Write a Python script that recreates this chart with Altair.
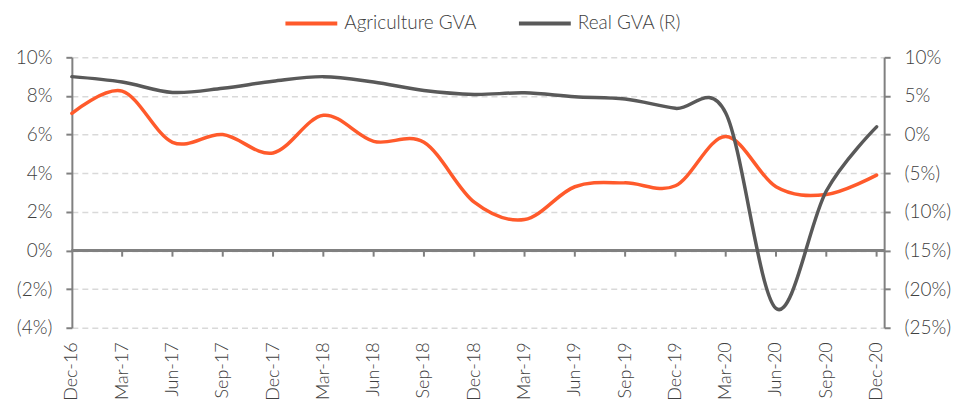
import altair as alt
import pandas as pd

quarters = ["Dec-16", "Mar-17", "Jun-17", "Sep-17", "Dec-17", "Mar-18", "Jun-18", "Sep-18",
            "Dec-18", "Mar-19", "Jun-19", "Sep-19", "Dec-19", "Mar-20", "Jun-20", "Sep-20", "Dec-20"]
agri = [7.1, 8.25, 5.6, 6.0, 5.05, 7.0, 5.65, 5.6, 2.5, 1.6, 3.3, 3.5, 3.35, 5.9, 3.3, 2.9, 3.9]
gva = [7.5, 6.8, 5.45, 6.0, 6.9, 7.5, 6.8, 5.7, 5.2, 5.4, 4.9, 4.6, 3.4, 2.8, -22.5, -7.3, 1.0]
series_names = ["Agriculture GVA", "Real GVA (R)"]
left_ticks = [-4, -2, 0, 2, 4, 6, 8, 10]
right_ticks = [-25, -20, -15, -10, -5, 0, 5, 10]

ORANGE = "#FF5A2B"
GREY = "#595959"
AXIS = "#808080"
FONT = "Lato"
FW = 300
TXT = "#404040"

idx = list(range(len(quarters)))
df = pd.DataFrame({
    "idx": idx * 2,
    "quarter": quarters * 2,
    "value": agri + gva,
    "series": [series_names[0]] * len(idx) + [series_names[1]] * len(idx),
})
ticks_df = pd.DataFrame({"idx": idx[1:]})

x_max = 16.15
xs = alt.Scale(domain=[0, x_max], nice=False, zero=False)
left_scale = alt.Scale(domain=[-4, 10], nice=False, zero=False)
right_scale = alt.Scale(domain=[-25, 10], nice=False, zero=False)

label_arr = "[" + ",".join("'" + q + "'" for q in quarters) + "]"
pct_expr = "datum.value < 0 ? '(' + format(-datum.value, 'd') + '%)' : format(datum.value, 'd') + '%'"

x_axis = alt.Axis(values=idx, labelExpr=label_arr + "[datum.value]", labelAngle=270,
                  domain=False, ticks=False, grid=False, title=None,
                  labelFont=FONT, labelFontWeight=FW, labelFontSize=18, labelColor=TXT,
                  labelPadding=14, labelOverlap=False, labelFlush=False, labelBound=False)

y_left_axis = alt.Axis(values=left_ticks, labelExpr=pct_expr, title=None,
                       grid=True, gridDash=[6, 4], gridColor="#d9d9d9", gridWidth=1.5,
                       domainColor=AXIS, domainWidth=2, tickColor=AXIS, tickWidth=2,
                       tickSize=6, labelPadding=14, labelFont=FONT, labelFontWeight=FW,
                       labelFontSize=19, labelColor=TXT, labelOverlap=False,
                       labelFlush=False, labelBound=False)

color = alt.Color("series:N", scale=alt.Scale(domain=series_names, range=[ORANGE, GREY]),
                  legend=alt.Legend(title=None, orient="none", direction="horizontal",
                                    legendX=212, legendY=-62, symbolType="stroke",
                                    symbolSize=2700, symbolStrokeWidth=4,
                                    labelFont=FONT, labelFontWeight=FW, labelFontSize=19,
                                    labelColor=TXT, columnPadding=34, labelOffset=5,
                                    labelLimit=400))

agri_line = alt.Chart(df).transform_filter(alt.datum.series == series_names[0]).mark_line(
    interpolate="cardinal", tension=0, strokeWidth=3.5, strokeCap="round"
).encode(
    x=alt.X("idx:Q", scale=xs, axis=x_axis),
    y=alt.Y("value:Q", scale=left_scale, axis=y_left_axis),
    color=color,
)

zero_rule = alt.Chart(ticks_df).mark_rule(color=AXIS, strokeWidth=2).encode(
    x=alt.value(0), x2=alt.value(814),
    y=alt.datum(0, scale=left_scale, axis=y_left_axis),
)

x_ticks = alt.Chart(ticks_df).mark_rule(color=AXIS, strokeWidth=2).encode(
    x=alt.X("idx:Q", scale=xs, axis=x_axis),
    y=alt.datum(0, scale=left_scale, axis=y_left_axis),
    y2=alt.datum(-0.32),
)

left = alt.layer(agri_line, zero_rule, x_ticks)

gva_line = alt.Chart(df).transform_filter(alt.datum.series == series_names[1]).mark_line(
    interpolate="cardinal", tension=0, strokeWidth=3.5, strokeCap="round"
).encode(
    x=alt.X("idx:Q", scale=xs, axis=x_axis),
    y=alt.Y("value:Q", scale=right_scale,
            axis=alt.Axis(orient="right", values=right_ticks, labelExpr=pct_expr, title=None,
                          grid=False, domainColor=AXIS, domainWidth=2, tickColor=AXIS,
                          tickWidth=2, tickSize=6, labelPadding=14, labelFont=FONT,
                          labelFontWeight=FW, labelFontSize=19, labelColor=TXT,
                          labelOverlap=False, labelFlush=False, labelBound=False)),
    color=color,
)

chart = alt.layer(left, gva_line).resolve_scale(y="independent").properties(
    width=814, height=271,
    autosize=alt.AutoSizeParams(type="none"),
    padding={"left": 64, "top": 49, "right": 70, "bottom": 77},
).configure_view(stroke=None)

chart.save("out.html", embed_options={"renderer": "svg", "actions": False})
